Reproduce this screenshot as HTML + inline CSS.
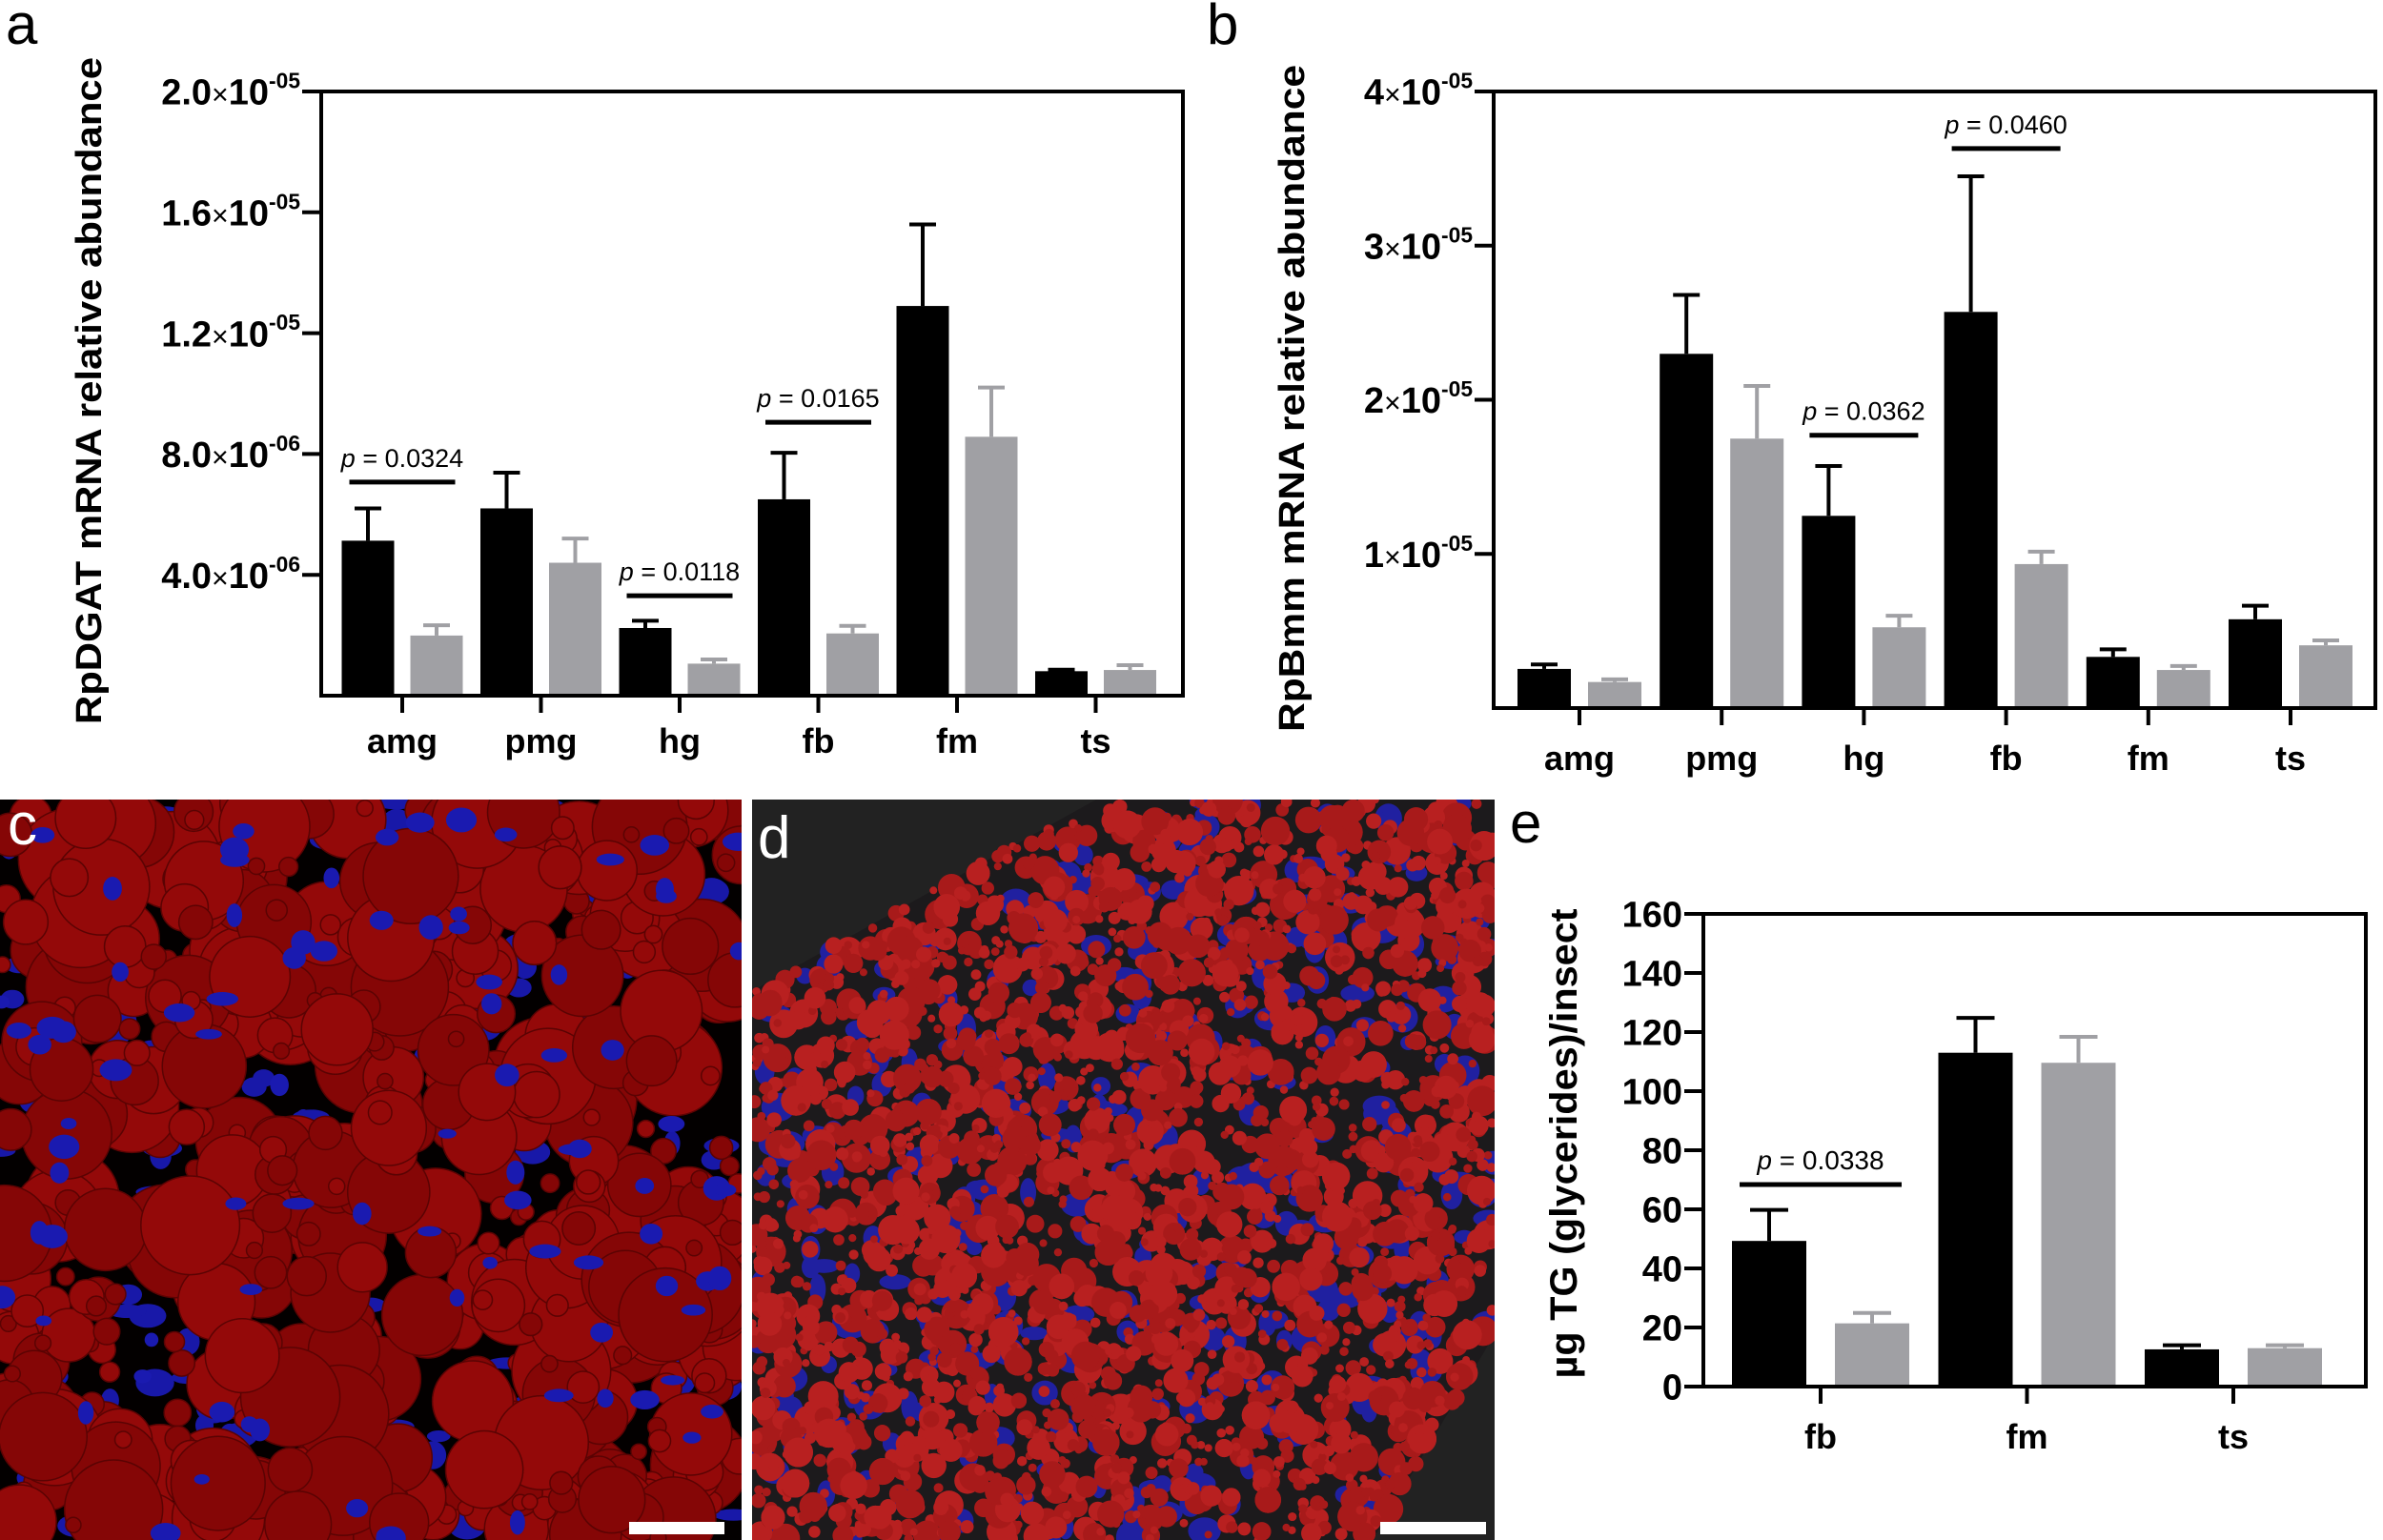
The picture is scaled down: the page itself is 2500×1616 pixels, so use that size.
<!DOCTYPE html>
<html><head><meta charset="utf-8"><style>
html,body{margin:0;padding:0;background:#fff;}
svg{display:block;}
text{font-family:"Liberation Sans",Arial,sans-serif;}
</style></head><body>
<svg id="fig" width="2500" height="1616" viewBox="0 0 2500 1616" xmlns="http://www.w3.org/2000/svg">
<rect width="2500" height="1616" fill="#fff"/>
<g id="micro"></g>
<g id="charts"></g>
</svg>
<script>
// ---------- Panel a data ----------
const catsA = ["amg","pmg","hg","fb","fm","ts"];
const blackA = [5.13e-6, 6.2e-6, 2.24e-6, 6.5e-6, 12.9e-6, 0.81e-6];
const blackErrA = [6.2e-6, 7.38e-6, 2.48e-6, 8.04e-6, 15.6e-6, 0.86e-6];
const grayA = [1.99e-6, 4.4e-6, 1.06e-6, 2.06e-6, 8.57e-6, 0.85e-6];
const grayErrA = [2.33e-6, 5.2e-6, 1.2e-6, 2.31e-6, 10.2e-6, 1.01e-6];
const ticksA = [4e-6, 8e-6, 1.2e-5, 1.6e-5, 2.0e-5];
const tickLabelsA = [["4.0","-06"],["8.0","-06"],["1.2","-05"],["1.6","-05"],["2.0","-05"]];
const sigA = [[0,7.07e-6,"0.0324"],[2,3.31e-6,"0.0118"],[3,9.05e-6,"0.0165"]];
// ---------- Panel b data ----------
const catsB = ["amg","pmg","hg","fb","fm","ts"];
const blackB = [2.54e-6, 22.98e-6, 12.47e-6, 25.7e-6, 3.32e-6, 5.76e-6];
const blackErrB = [2.83e-6, 26.8e-6, 15.7e-6, 34.5e-6, 3.81e-6, 6.64e-6];
const grayB = [1.69e-6, 17.48e-6, 5.24e-6, 9.34e-6, 2.47e-6, 4.07e-6];
const grayErrB = [1.86e-6, 20.9e-6, 5.99e-6, 10.15e-6, 2.73e-6, 4.39e-6];
const ticksB = [1e-5, 2e-5, 3e-5, 4e-5];
const tickLabelsB = [["1","-05"],["2","-05"],["3","-05"],["4","-05"]];
const sigB = [[2,17.7e-6,"0.0362"],[3,36.3e-6,"0.0460"]];
// ---------- Panel e data ----------
const catsE = ["fb","fm","ts"];
const blackE = [49.3, 113, 12.6];
const blackErrE = [59.8, 124.8, 14];
const grayE = [21.4, 109.6, 13];
const grayErrE = [24.9, 118.4, 14];
const ticksE = [0,20,40,60,80,100,120,140,160];
const sigE = [[0,68.4,"0.0338"]];

const NS="http://www.w3.org/2000/svg";
const charts=document.getElementById('charts');
function mk(tag,attrs,parent,txt){const e=document.createElementNS(NS,tag);for(const k in attrs)e.setAttribute(k,attrs[k]);if(txt!==undefined)e.textContent=txt;(parent||charts).appendChild(e);return e;}

function panel(o){
  const g=mk('g',{});
  
  
  const y=v=>o.y0-(v/o.vmax)*(o.y0-o.y1);
  const n=o.cats.length;
  const cx=i=>o.c0+o.gw*i;
  for(let i=0;i<n;i++){
    [[o.black,o.berr,'#000',-o.off,'black'],[o.gray,o.gerr,'#a0a0a4',o.off,'gray']].forEach(s=>{
      const c=cx(i)+s[3], v=s[0][i], e=s[1][i];
      const ln=mk('line',{x1:c,x2:c,y1:y(v),y2:y(e),stroke:s[2],'stroke-width':4},g);
      
      
      const cap=mk('line',{x1:c-o.cap/2,x2:c+o.cap/2,y1:y(e),y2:y(e),stroke:s[2],'stroke-width':4},g);
      
      
      const r=mk('rect',{x:c-o.bw/2,y:y(v),width:o.bw,height:o.y0-y(v),fill:s[2]},g);
      
      
    });
    const t=mk('line',{x1:cx(i),x2:cx(i),y1:o.y0,y2:o.y0+18,stroke:'#000','stroke-width':4},g);
    
    
    const lb=mk('text',{x:cx(i),y:o.xly,'text-anchor':'middle','font-size':o.xfs,'font-weight':'bold'},g,o.cats[i]);
    
    
  }
  const fr=mk('rect',{x:o.x0,y:o.y1,width:o.x1-o.x0,height:o.y0-o.y1,fill:'none',stroke:'#000','stroke-width':4},g);
  
  
  o.ticks.forEach((tv,k)=>{
    const yy=y(tv);
    const tk=mk('line',{x1:o.x0-20,x2:o.x0,y1:yy,y2:yy,stroke:'#000','stroke-width':4},g);
    
    
    const tx=mk('text',{x:o.x0-22,y:yy+o.yfs*0.36,'text-anchor':'end','font-size':o.yfs,'font-weight':'bold'},g);
    
    
    if(o.labels){
      const L=o.labels[k];
      mk('tspan',{},tx,L[0]);
      mk('tspan',{'font-weight':'normal','font-size':o.yfs*0.8},tx,'\u00d7');
      mk('tspan',{},tx,'10');
      mk('tspan',{'font-size':o.yfs*0.6,dy:-o.yfs*0.45},tx,L[1]);
    } else tx.textContent=String(tv);
  });
  o.sig.forEach(s=>{
    const a=cx(s[0])-o.off, b=cx(s[0])+o.off, yy=y(s[1]);
    const l=mk('line',{x1:a-o.bw/2+8,x2:b+o.bw/2-8,y1:yy,y2:yy,stroke:'#000','stroke-width':5},g);
    
    
    const t=mk('text',{x:(a+b)/2,y:yy-o.pgap,'text-anchor':'middle','font-size':o.pfs},g);
    
    
    mk('tspan',{'font-style':'italic'},t,'p');
    mk('tspan',{},t,' = '+s[2]);
  });
  const tt=mk('text',{x:0,y:0,'text-anchor':'middle','font-size':o.tfs,'font-weight':'bold',transform:`translate(${o.tx},${o.ty}) rotate(-90)`,textLength:o.tlen,lengthAdjust:'spacingAndGlyphs'},g,o.title);
  
  
  const pl=mk('text',{x:o.lx,y:o.ly,'font-size':60},g,o.letter);
  
  
}

panel({name:'chart-a-rpdgat',cats:catsA,black:blackA,berr:blackErrA,gray:grayA,gerr:grayErrA,ticks:ticksA,labels:tickLabelsA,sig:sigA,
  x0:337,x1:1241,y0:730,y1:96,vmax:2e-5,c0:422,gw:145.5,bw:55,off:36,cap:28,xly:790,xfs:36,yfs:38,pfs:27,pgap:16,
  title:'RpDGAT mRNA relative abundance',tx:106,ty:410,tfs:38,tlen:700,letter:'a',lx:6,ly:46});
panel({name:'chart-b-rpbmm',cats:catsB,black:blackB,berr:blackErrB,gray:grayB,gerr:grayErrB,ticks:ticksB,labels:tickLabelsB,sig:sigB,
  x0:1567,x1:2492,y0:743,y1:96,vmax:4e-5,c0:1657,gw:149.2,bw:56,off:37,cap:28,xly:808,xfs:36,yfs:38,pfs:27,pgap:16,
  title:'RpBmm mRNA relative abundance',tx:1368,ty:418,tfs:38,tlen:700,letter:'b',lx:1266,ly:46});
panel({name:'chart-e-tg',cats:catsE,black:blackE,berr:blackErrE,gray:grayE,gerr:grayErrE,ticks:ticksE,labels:null,sig:sigE,
  x0:1787,x1:2482,y0:1455,y1:959,vmax:160,c0:1910,gw:216.5,bw:78,off:54,cap:40,xly:1520,xfs:36,yfs:38,pfs:28,pgap:16,
  title:'\u00b5g TG (glycerides)/insect',tx:1654,ty:1200,tfs:40,tlen:493,letter:'e',lx:1584,ly:884});

// ---------- micrographs (decorative texture) ----------
const micro=document.getElementById('micro');
let seed=12345;function rnd(){seed=(seed*1103515245+12345)&0x7fffffff;return seed/0x7fffffff;}
function img(x,y,w,h,bg,name){
  const g=mk('g',{},micro);
  
  
  const cp=mk('clipPath',{id:'cp'+name},micro);
  mk('rect',{x:x,y:y,width:w,height:h},cp);
  g.setAttribute('clip-path','url(#cp'+name+')');
  mk('rect',{x:x,y:y,width:w,height:h,fill:bg},g);
  return g;
}
const gc=img(0,839,778,777,'#030000','micrograph-c');
for(let i=0;i<200;i++) mk('ellipse',{cx:rnd()*778,cy:839+rnd()*777,rx:8+rnd()*14,ry:6+rnd()*10,fill:'#1818a8'},gc);
for(let i=0;i<620;i++){const r=8+Math.pow(rnd(),1.8)*46;mk('circle',{cx:rnd()*778,cy:839+rnd()*777,r:r,fill:rnd()<0.5?'#850606':'#940909',stroke:'#5a0303','stroke-width':1.5},gc);}
for(let i=0;i<90;i++) mk('ellipse',{cx:rnd()*778,cy:839+rnd()*777,rx:7+rnd()*10,ry:5+rnd()*8,fill:'#1a1ab0'},gc);
const cl=mk('text',{x:8,y:886,'font-size':62,fill:'#fff'},micro,'c');


const sbc=mk('rect',{x:660,y:1597,width:100,height:13,fill:'#fff'},micro);



const gd=img(789,839,779,777,'#222','micrograph-d');
mk('polygon',{points:'789,1040 1150,839 1568,839 1568,1400 1440,1616 789,1616',fill:'#1c1a1c'},gd);
function inT(px,py){ if(py< 1040-(px-789)*0.56) return false; if(px>1568-(py-1400)*0.6 && py>1400) return false; return true;}
for(let i=0;i<380;i++){const px=789+rnd()*779,py=839+rnd()*777;if(inT(px,py))mk('ellipse',{cx:px,cy:py,rx:8+rnd()*10,ry:7+rnd()*9,fill:'#2020a0'},gd);}
for(let i=0;i<3600;i++){const px=789+rnd()*779,py=839+rnd()*777;if(!inT(px,py))continue;const r=4+Math.pow(rnd(),2)*12;mk('circle',{cx:px,cy:py,r:r,fill:rnd()<0.5?'#a81a1a':'#b82020'},gd);}
const dl=mk('text',{x:795,y:900,'font-size':62,fill:'#fff'},micro,'d');


const sbd=mk('rect',{x:1448,y:1597,width:111,height:13,fill:'#fff'},micro);


</script>
</body></html>
